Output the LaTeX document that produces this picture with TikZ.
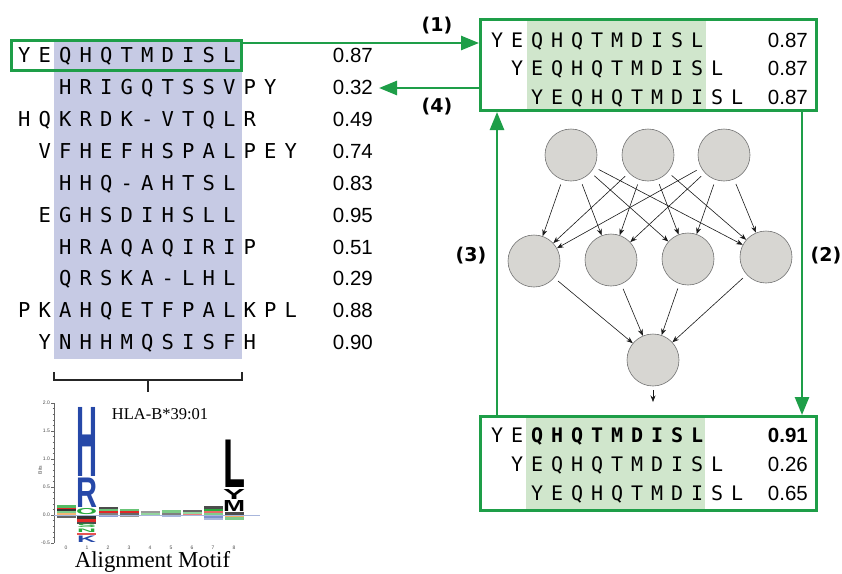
\documentclass[tikz,border=0pt]{standalone}
\usepackage{fontspec}
\usetikzlibrary{arrows.meta}
\newfontfamily\seqfont{DejaVu Sans Mono}
\newfontfamily\numfont{Liberation Sans}
\newfontfamily\labfont{DejaVu Sans}
\newfontfamily\tmsfont{Liberation Serif}
\newfontfamily\logofont{Liberation Sans}
\definecolor{gline}{RGB}{30,158,72}
\definecolor{gshade}{RGB}{208,230,204}
\definecolor{bshade}{RGB}{198,202,228}
\definecolor{ncirc}{RGB}{215,214,210}
\definecolor{lblue}{RGB}{38,72,168}
\definecolor{lgreen}{RGB}{40,170,60}
\definecolor{lred}{RGB}{225,40,40}
\definecolor{lorange}{RGB}{240,150,60}
\makeatletter
\newlength\sqw
\newcommand\seqbox[2]{\setlength\sqw{#1}\edef\sq@tmp{#2}\expandafter\sq@loop\sq@tmp\@nil}
\def\sq@loop#1{\ifx#1\@nil\else\makebox[\sqw]{#1}\expandafter\sq@loop\fi}
\makeatother
\newcommand\lglyph[6]{\node[inner sep=0pt, outer sep=0pt, anchor=south west, text=#1] at (#2,#3) {\resizebox{#4pt}{#5pt}{\logofont\bfseries #6}};}
\newcommand\lstrip[4]{\fill[#4] ({#1-9.5},#2) rectangle ({#1+9.5},#3);}
\begin{document}
\begin{tikzpicture}[x=1pt,y=-1pt,
  gbox/.style={draw=gline, line width=2.6pt, inner sep=0pt},
  garrow/.style={draw=gline, line width=2.6pt, -{Triangle[length=18pt,width=14pt]}},
  lseq/.style={inner sep=0pt, anchor=base west, font=\seqfont\fontsize{20.5}{24}\selectfont},
  rseq/.style={inner sep=0pt, anchor=base west, font=\seqfont\fontsize{20}{24}\selectfont},
  score/.style={inner sep=0pt, anchor=base east, font=\numfont\fontsize{20.5}{24}\selectfont},
  steplab/.style={font=\labfont\bfseries\fontsize{19}{21}\selectfont, inner sep=0pt},
  neuron/.style={circle, draw=black!55, fill=ncirc, line width=0.6pt, minimum size=52pt, inner sep=0pt},
  nedge/.style={draw=black!90, line width=0.6pt, -{Stealth[length=6.5pt,width=5pt]}, shorten <=5pt},
  axlab/.style={font=\logofont\fontsize{5}{6}\selectfont, inner sep=0pt, text=black!70},
]
\useasboundingbox (0,0) rectangle (842,573);
\fill[white] (0,0) rectangle (842,573);

% ---------- left alignment ----------
\fill[bshade] (54,40) rectangle (242,359);
\foreach \i/\k/\s/\v in {1/-2/YEQHQTMDISL/0.87, 2/0/HRIGQTSSVPY/0.32, 3/-2/HQKRDK-VTQLR/0.49,
  4/-1/VFHEFHSPALPEY/0.74, 5/0/HHQ-AHTSL/0.83, 6/-1/EGHSDIHSLL/0.95, 7/0/HRAQAQIRIP/0.51,
  8/0/QRSKA-LHL/0.29, 9/-2/PKAHQETFPALKPL/0.88, 10/-1/YNHHMQSISFH/0.90}{
  \node[lseq] (l\i) at ({65+20.5*\k-10.25},{55+31.9*(\i-1)+7.6}) {\seqbox{20.5pt}{\s}};
  \node[score] (ls\i) at (373,{55+31.9*(\i-1)+7.6}) {\v};
}
\node[gbox, minimum width=230.4pt, minimum height=30.4pt] (lbox) at (126.5,55.5) {};

% bracket
\draw[line width=1.6pt, black!85] (54,372) -- (54,380) -- (242,380) -- (242,372);
\draw[line width=1.6pt, black!85] (148,380) -- (148,392);

% ---------- top right box ----------
\fill[gshade] (527,18) rectangle (706,112);
\foreach \i/\k in {1/-2, 2/-1, 3/0}{
  \node[rseq] (t\i) at ({537+20*\k-10},{40+28.5*(\i-1)+7.3}) {\seqbox{20pt}{YEQHQTMDISL}};
  \node[score] (ts\i) at (808,{40+28.5*(\i-1)+7.3}) {0.87};
}
\node[gbox, minimum width=336.4pt, minimum height=91.4pt] (tbox) at (648.5,65) {};

% ---------- bottom right box ----------
\fill[gshade] (526,415) rectangle (705,512);
\node[rseq] (b1) at ({537-40-10},{435+7.3}) {\seqbox{20pt}{YE}\bfseries\seqbox{20pt}{QHQTMDISL}};
\node[score, font=\numfont\bfseries\fontsize{20.5}{24}\selectfont] (bs1) at (808,{435+7.3}) {0.91};
\node[rseq] (b2) at ({537-20-10},{464+7.3}) {\seqbox{20pt}{YEQHQTMDISL}};
\node[score] (bs2) at (808,{464+7.3}) {0.26};
\node[rseq] (b3) at ({537-10},{493+7.3}) {\seqbox{20pt}{YEQHQTMDISL}};
\node[score] (bs3) at (808,{493+7.3}) {0.65};
\node[gbox, minimum width=336.4pt, minimum height=94.4pt] (bbox) at (648.5,463.5) {};

% ---------- green arrows ----------
\coordinate (a4end) at (379,88);
\draw[garrow] ([yshift=-4pt]lbox.north east) -- ([yshift=-4pt]lbox.north east -| tbox.west);
\draw[garrow] (tbox.west |- a4end) -- (a4end);
\draw[garrow] ([xshift=-16pt]tbox.south east) -- ([xshift=-16pt]tbox.south east |- bbox.north);
\draw[garrow] ([xshift=18pt]bbox.north west) -- ([xshift=18pt]bbox.north west |- tbox.south);
\node[steplab] (lab1) at (437,26) {(1)};
\node[steplab] (lab4) at (437,107) {(4)};
\node[steplab] (lab3) at (471,256) {(3)};
\node[steplab] (lab2) at (826,256) {(2)};

% ---------- neural network ----------
\node[neuron] (n1) at (571,155) {};
\node[neuron] (n2) at (648,155) {};
\node[neuron] (n3) at (724,155) {};
\node[neuron] (m1) at (534,261) {};
\node[neuron] (m2) at (611,260) {};
\node[neuron] (m3) at (688,259) {};
\node[neuron] (m4) at (766,257) {};
\node[neuron] (o) at (653,360) {};
\foreach \a in {n1,n2,n3}{
  \foreach \b in {m1,m2,m3,m4}{\draw[nedge] (\a) -- (\b);}
}
\foreach \b in {m1,m2,m3,m4}{\draw[nedge] (\b) -- (o);}
\coordinate (oend) at (653,402);
\draw[nedge, shorten <=4pt] (o.south) -- (oend);

% ---------- sequence logo ----------
\draw[black!60, line width=0.5pt] (54,403) -- (54,543);
\foreach \j in {0,...,25}{\draw[black!60, line width=0.4pt] (52.5,{403+5.6*\j}) -- (54,{403+5.6*\j});}
\foreach \j/\t in {0/2.0,1/1.5,2/1.0,3/0.5,4/0.0,5/-0.5}{
  \draw[black!60, line width=0.5pt] (51,{403+28*\j}) -- (54,{403+28*\j});
  \node[axlab, anchor=east] (yl\j) at (50,{403+28*\j}) {\t};
}
\node[axlab, rotate=90] (bits) at (40,470) {Bits};
\foreach \i in {0,...,8}{\node[axlab] (xl\i) at ({66+21*\i},548) {\i};}

% small stacks
\lstrip{66}{505}{507.5}{lgreen!80}
\lstrip{66}{507.5}{509}{lred}
\lstrip{66}{509}{510.5}{black!80}
\lstrip{66}{510.5}{512.5}{lgreen!60}
\lstrip{66}{512.5}{515}{lorange!70}
\lstrip{66}{515.5}{517.5}{black!60}
\lstrip{108}{507}{509}{black!70}
\lstrip{108}{509}{511}{lgreen!70}
\lstrip{108}{511}{513}{lred}
\lstrip{108}{513}{515}{black!50}
\lstrip{108}{515.5}{517}{lblue!50}
\lstrip{129}{509}{511}{lgreen!70}
\lstrip{129}{511}{512.5}{lred}
\lstrip{129}{512.5}{515}{black!60}
\lstrip{129}{515.5}{517}{black!40}
\lstrip{150}{511}{513}{black!40}
\lstrip{150}{513}{515}{lgreen!50}
\lstrip{171}{510}{512.5}{lgreen!60}
\lstrip{171}{512.5}{515}{black!50}
\lstrip{171}{515.5}{517}{lblue!40}
\lstrip{192}{509.5}{511.5}{black!60}
\lstrip{192}{511.5}{513.5}{lgreen!50}
\lstrip{192}{513.5}{515}{lred!60}
\lstrip{213}{506}{508.5}{black!70}
\lstrip{213}{508.5}{511}{lgreen}
\lstrip{213}{511}{513}{lred!70}
\lstrip{213}{513}{515}{lgreen!60}
\lstrip{213}{515.5}{518}{lblue!60}
\lstrip{213}{518}{520}{lblue!40}
\lstrip{234}{515.5}{517}{lorange!80}
\lstrip{234}{517}{519.5}{lgreen!60}
% position 1
\lglyph{lblue}{76}{476}{21}{69}{H}
\lglyph{lblue}{76}{507}{21}{29.5}{R}
\lglyph{lgreen}{76}{514.5}{21}{6}{O}
\lstrip{86.5}{515.5}{518.5}{black!80}
\lstrip{86.5}{518.5}{521.5}{lred}
\lstrip{86.5}{521.5}{524}{black!70}
\lglyph{lgreen}{77}{527.5}{19}{3.5}{S}
\lglyph{lgreen}{77}{532}{19}{3.5}{N}
\lstrip{86.5}{532.5}{535}{lred!80}
\lglyph{lblue}{77}{542.5}{19}{6.5}{K}
% position 8
\lglyph{black}{223}{487.5}{22}{47.5}{L}
\lglyph{black}{223}{499}{22}{10}{Y}
\lglyph{black}{223}{511.5}{22}{11}{M}
\lstrip{234}{512}{514.5}{black!70}
\draw[lblue!40, line width=0.6pt] (54,515) -- (260,515);

\node[font=\tmsfont\fontsize{16.5}{18}\selectfont, inner sep=0pt] (hla) at (160,414) {HLA-B*39:01};
\node[font=\tmsfont\fontsize{22.8}{26}\selectfont, inner sep=0pt, anchor=base] (am) at (152.5,567.5) {Alignment Motif};
\end{tikzpicture}
\end{document}
